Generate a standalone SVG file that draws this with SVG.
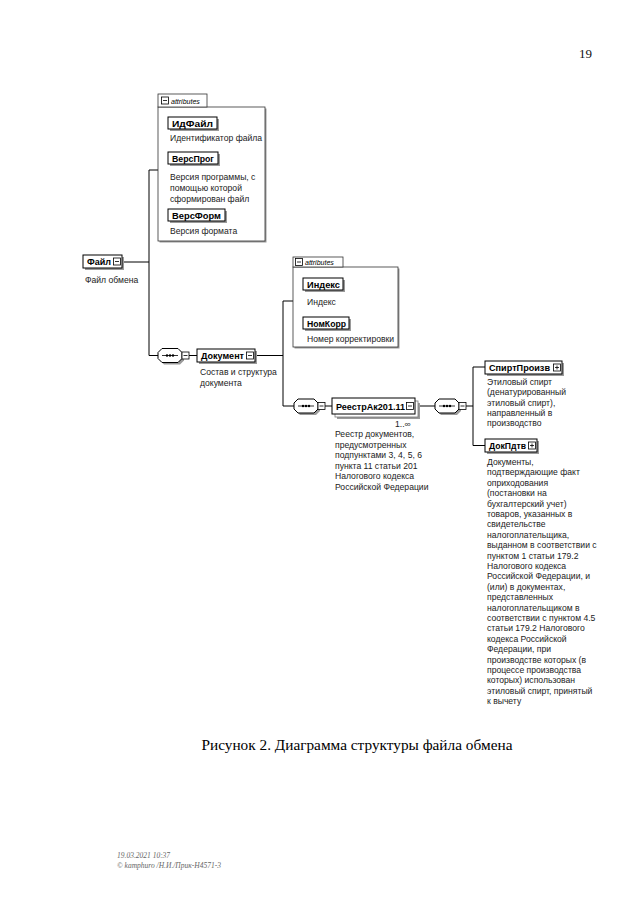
<svg xmlns="http://www.w3.org/2000/svg" width="640" height="905" viewBox="0 0 640 905">
<style>
.t{font-family:"Liberation Sans",Arial,sans-serif;font-size:8.6px;fill:#222}
.n{font-family:"Liberation Sans",Arial,sans-serif;font-size:8.8px;font-weight:bold;fill:#000}
.box{fill:#fff;stroke:#000;stroke-width:1}
.sh{fill:#9a9a9a}
.ln{stroke:#000;stroke-width:1;fill:none}
.ab{fill:#fff;stroke:#333;stroke-width:0.8}
.at{font-family:"Liberation Sans",Arial,sans-serif;font-size:7px;font-style:italic;fill:#000}
.sq{fill:#fff;stroke:#000;stroke-width:0.8}
.cap{font-family:"Liberation Serif","Times New Roman",serif;font-size:15.3px;fill:#000}
.ft{font-family:"Liberation Serif","Times New Roman",serif;font-size:7.5px;font-style:italic;fill:#666}
</style>
<defs>
<g id="mn"><rect class="sq" x="-3.5" y="-3.5" width="7" height="7"/><path d="M-2 0H2" stroke="#000" stroke-width="0.8"/></g>
<g id="pl"><rect class="sq" x="-3.5" y="-3.5" width="7" height="7"/><path d="M-2 0H2M0 -2V2" stroke="#000" stroke-width="0.8"/></g>
<g id="seq">
<path class="sh" d="M-6,-5 H10 L14,-1 V5 L10,9 H-6 L-10,5 V-1 Z"/>
<path fill="#fff" stroke="#000" stroke-width="1" d="M-8,-7 H8 L12,-3 V3 L8,7 H-8 L-12,3 V-3 Z"/>
<path d="M-8 0H8" stroke="#000" stroke-width="0.8"/>
<circle cx="-3" cy="0" r="1.2"/><circle cx="0" cy="0" r="1.2"/><circle cx="3" cy="0" r="1.2"/>
<use href="#mn" x="15.5" y="0"/>
</g>
</defs>
<rect width="640" height="905" fill="#fff"/>
<text x="579" y="58" font-family="Liberation Serif,serif" font-size="13" fill="#111">19</text>

<g id="connectors" class="ln">
<path d="M122 262H149M149 170V355.5M149 170H158M149 355.5H158"/>
<path d="M189 355.5H197"/>
<path d="M255 355.5H283M283 301V406M283 301H293M283 406H294"/>
<path d="M325 406H332"/>
<path d="M415 406H435"/>
<path d="M466 406H473M473 367V445.5M473 367H485M473 445.5H485"/>
</g>

<g id="attrs1">
<rect class="sh" x="159.5" y="108.5" width="107" height="134"/>
<rect class="ab" x="158" y="107" width="107" height="134"/>
<rect class="ab" x="158" y="94" width="49" height="13"/>
<use href="#mn" x="165" y="100.5"/>
<text class="at" x="171" y="103.5">attributes</text>
</g>
<g id="IdFile">
<rect class="sh" x="170" y="119" width="49" height="12"/>
<rect class="box" x="168" y="117" width="49" height="12"/>
<text class="n" x="172" y="126.5" textLength="41" lengthAdjust="spacingAndGlyphs">ИдФайл</text>
<text class="t" x="170" y="141">Идентификатор файла</text>
</g>
<g id="VersProg">
<rect class="sh" x="170" y="154" width="50" height="12"/>
<rect class="box" x="168" y="152" width="50" height="12"/>
<text class="n" x="172" y="161.5" textLength="42" lengthAdjust="spacingAndGlyphs">ВерсПрог</text>
<text class="t" x="170" y="180">Версия программы, с</text>
<text class="t" x="170" y="191">помощью которой</text>
<text class="t" x="170" y="202">сформирован файл</text>
</g>
<g id="VersForm">
<rect class="sh" x="170" y="211" width="57" height="12"/>
<rect class="box" x="168" y="209" width="57" height="12"/>
<text class="n" x="172" y="218.5" textLength="49" lengthAdjust="spacingAndGlyphs">ВерсФорм</text>
<text class="t" x="170" y="234">Версия формата</text>
</g>

<g id="File">
<rect class="sh" x="85" y="257" width="39" height="13"/>
<rect class="box" x="83" y="255" width="39" height="13"/>
<text class="n" x="87" y="265" textLength="24" lengthAdjust="spacingAndGlyphs">Файл</text>
<use href="#mn" x="117" y="261.5"/>
<text class="t" x="85" y="283">Файл обмена</text>
</g>

<g id="seq1"><use href="#seq" x="170" y="355.5"/></g>

<g id="Document">
<rect class="sh" x="199" y="351" width="58" height="13"/>
<rect class="box" x="197" y="349" width="58" height="13"/>
<text class="n" x="201" y="359" textLength="43" lengthAdjust="spacingAndGlyphs">Документ</text>
<use href="#mn" x="250" y="355.5"/>
<text class="t" x="200" y="375">Состав и структура</text>
<text class="t" x="200" y="386">документа</text>
</g>

<g id="attrs2">
<rect class="sh" x="294.5" y="268.5" width="105" height="80"/>
<rect class="ab" x="293" y="267" width="105" height="80"/>
<rect class="ab" x="293" y="257" width="50" height="10"/>
<use href="#mn" x="299" y="262"/>
<text class="at" x="305" y="265">attributes</text>
</g>
<g id="Index">
<rect class="sh" x="305" y="280" width="40" height="12"/>
<rect class="box" x="303" y="278" width="40" height="12"/>
<text class="n" x="307" y="287.5" textLength="33" lengthAdjust="spacingAndGlyphs">Индекс</text>
<text class="t" x="307" y="305">Индекс</text>
</g>
<g id="NomKorr">
<rect class="sh" x="305" y="319" width="46" height="12"/>
<rect class="box" x="303" y="317" width="46" height="12"/>
<text class="n" x="307" y="326.5" textLength="39" lengthAdjust="spacingAndGlyphs">НомКорр</text>
<text class="t" x="307" y="342">Номер корректировки</text>
</g>

<g id="seq2"><use href="#seq" x="306" y="406"/></g>

<g id="Reestr">
<rect class="sh" x="337" y="403" width="83" height="16"/>
<rect fill="#fff" stroke="#777" stroke-width="0.8" x="335" y="401" width="83" height="16"/>
<rect class="box" x="332" y="398" width="83" height="16"/>
<text class="n" x="336" y="410" font-size="9.4" textLength="69" lengthAdjust="spacingAndGlyphs">РеестрАк201.11</text>
<use href="#mn" x="410" y="406"/>
<text class="t" x="395" y="427">1..∞</text>
<text class="t" x="335" y="437">Реестр документов,</text>
<text class="t" x="335" y="447.5">предусмотренных</text>
<text class="t" x="335" y="458">подпунктами 3, 4, 5, 6</text>
<text class="t" x="335" y="468.5">пункта 11 статьи 201</text>
<text class="t" x="335" y="479">Налогового кодекса</text>
<text class="t" x="335" y="489.5">Российской Федерации</text>
</g>

<g id="seq3"><use href="#seq" x="447" y="406"/></g>

<g id="SpirtProizv">
<rect class="sh" x="487" y="363" width="77" height="13"/>
<rect class="box" x="485" y="361" width="77" height="13"/>
<text class="n" x="489" y="371" textLength="61" lengthAdjust="spacingAndGlyphs">СпиртПроизв</text>
<use href="#pl" x="557" y="367.5"/>
<text class="t" x="487" y="385">Этиловый спирт</text>
<text class="t" x="487" y="395.3">(денатурированный</text>
<text class="t" x="487" y="405.6">этиловый спирт),</text>
<text class="t" x="487" y="415.9">направленный в</text>
<text class="t" x="487" y="426.2">производство</text>
</g>

<g id="DokPdtv">
<rect class="sh" x="487" y="441" width="52" height="13"/>
<rect class="box" x="485" y="439" width="52" height="13"/>
<text class="n" x="489" y="449" textLength="37" lengthAdjust="spacingAndGlyphs">ДокПдтв</text>
<use href="#pl" x="532" y="445.5"/>
<text class="t" x="487" y="465">Документы,</text>
<text class="t" x="487" y="475.4">подтверждающие факт</text>
<text class="t" x="487" y="485.8">оприходования</text>
<text class="t" x="487" y="496.2">(постановки на</text>
<text class="t" x="487" y="506.6">бухгалтерский учет)</text>
<text class="t" x="487" y="517">товаров, указанных в</text>
<text class="t" x="487" y="527.4">свидетельстве</text>
<text class="t" x="487" y="537.8">налогоплательщика,</text>
<text class="t" x="487" y="548.2">выданном в соответствии с</text>
<text class="t" x="487" y="558.6">пунктом 1 статьи 179.2</text>
<text class="t" x="487" y="569">Налогового кодекса</text>
<text class="t" x="487" y="579.4">Российской Федерации, и</text>
<text class="t" x="487" y="589.8">(или) в документах,</text>
<text class="t" x="487" y="600.2">представленных</text>
<text class="t" x="487" y="610.6">налогоплательщиком в</text>
<text class="t" x="487" y="621">соответствии с пунктом 4.5</text>
<text class="t" x="487" y="631.4">статьи 179.2 Налогового</text>
<text class="t" x="487" y="641.8">кодекса Российской</text>
<text class="t" x="487" y="652.2">Федерации, при</text>
<text class="t" x="487" y="662.6">производстве которых (в</text>
<text class="t" x="487" y="673">процессе производства</text>
<text class="t" x="487" y="683.4">которых) использован</text>
<text class="t" x="487" y="693.8">этиловый спирт, принятый</text>
<text class="t" x="487" y="704.2">к вычету</text>
</g>

<text class="cap" x="357" y="750" text-anchor="middle">Рисунок 2. Диаграмма структуры файла обмена</text>
<text class="ft" x="117" y="858">19.03.2021 10:37</text>
<text class="ft" x="117" y="868">© kamphuro /Н.И./Прик-Н4571-3</text>
</svg>
